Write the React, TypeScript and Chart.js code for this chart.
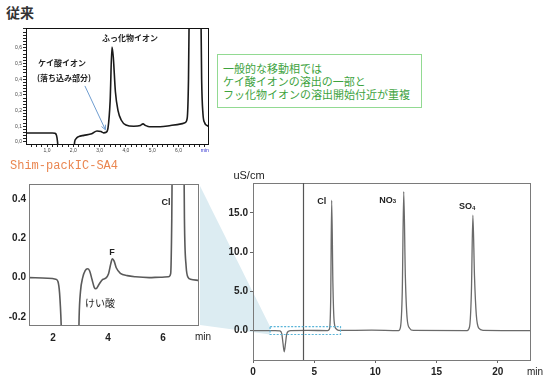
import React, { useEffect, useRef } from "react";
import { Chart, registerables } from "chart.js";

Chart.register(...registerables);

const SANS = "'Liberation Sans', Arial, 'Noto Sans CJK JP', sans-serif";
const JP = "'Noto Sans CJK JP', 'Liberation Sans', sans-serif";

// ===== 従来 (conventional column) =====
const oldTimes = [0.2, 1.2, 1.3, 1.36, 1.4, 1.44, 2.0, 2.05, 2.1, 2.2, 2.4, 2.7, 2.9, 3.05, 3.15, 3.25, 3.32, 3.4, 3.47, 3.52, 3.6, 3.7, 3.82, 4.0, 4.3, 4.55, 4.65, 4.75, 4.9, 5.3, 5.7, 6.1, 6.25, 6.33, 6.38, 6.42, 6.6, 6.84, 6.88, 6.93, 7.0, 7.08, 7.16];
const oldSignal = [0.57, 0.57, 0.55, 0.42, 0.0, -1, -1, 0.0, 0.2, 0.34, 0.42, 0.52, 0.7, 0.66, 0.58, 0.62, 0.9, 2.6, 6.05, 5.4, 3.2, 2.0, 1.4, 1.08, 1.0, 1.05, 1.15, 1.05, 0.97, 0.97, 1.05, 1.15, 1.23, 1.5, 4, 10, 14, 10, 4, 1.8, 1.2, 1.05, 0.97];
const oldXTickLabels = ["1,0", "2,0", "3,0", "4,0", "5,0", "6,0", "min"];
const oldYTickLabels = ["0,0", "0,1", "0,2", "0,3", "0,4", "0,5", "0,6"];
const oldFluorideLabel = "ふっ化物イオン";
const oldSilicateLabel = ["ケイ酸イオン", "(落ち込み部分)"];
const oldNote = ["一般的な移動相では", "ケイ酸イオンの溶出の一部と", "フッ化物イオンの溶出開始付近が重複"];

// ===== Shim-pack IC-SA4 (zoomed) =====
const zoomTitle = "Shim-packIC-SA4";
const zoomTimes = [1.13, 1.8, 2.1, 2.18, 2.24, 2.3, 2.36, 2.9, 2.95, 3.0, 3.08, 3.17, 3.25, 3.33, 3.42, 3.5, 3.56, 3.67, 3.8, 3.92, 4.02, 4.1, 4.16, 4.22, 4.3, 4.45, 4.7, 5.0, 5.5, 5.9, 6.2, 6.28, 6.32, 6.36, 6.55, 6.74, 6.78, 6.84, 6.92, 7.0, 7.31];
const zoomSignal = [0.0, -0.003, -0.008, -0.02, -0.08, -0.25, -0.6, -0.6, -0.2, -0.07, 0.0, 0.035, 0.045, 0.035, -0.01, -0.05, -0.057, -0.035, -0.01, -0.003, 0.02, 0.07, 0.096, 0.085, 0.05, 0.022, 0.01, 0.004, 0.0, 0.002, 0.004, 0.02, 0.3, 1.0, 1.6, 1.0, 0.3, 0.06, 0.0, -0.008, -0.014];
const zoomXTicks = [2, 4, 6];
const zoomYTicks = [-0.2, 0.0, 0.2, 0.4];

// ===== full chromatogram =====
const fullTimes = [0, 1.8, 2.2, 2.35, 2.45, 2.55, 2.65, 2.75, 2.9, 3.1, 4.5, 6.1, 6.25, 6.35, 6.43, 6.53, 6.63, 6.8, 7.0, 9.7, 11.9, 12.05, 12.2, 12.32, 12.45, 12.6, 12.8, 13.1, 17.5, 17.7, 17.85, 17.97, 18.1, 18.25, 18.45, 18.8, 22.72];
const fullSignal = [0, 0, -0.05, -0.4, -1.6, -2.7, -1.7, -0.5, -0.08, 0, 0.02, 0, 0.2, 4, 16.6, 6, 1.2, 0.2, 0.02, 0.05, 0, 0.4, 5, 17.7, 7, 1.5, 0.3, 0.02, 0, 0.5, 5, 14.7, 7, 2, 0.3, 0.03, 0];
const fullXTicks = [0, 5, 10, 15, 20];
const fullYTicks = [0, 5, 10, 15];
const peakNames = ["Cl", "NO", "SO"];
const peakSubs = ["", "3", "4"];

type Box = { left: number; top: number; width: number; height: number };
type Area = { left: number; top: number; right: number; bottom: number };

const OLD_BOX: Box = { left: 0, top: 20, width: 215, height: 140 };
const OLD_AREA: Area = { left: 26, top: 28, right: 209, bottom: 144 };
const ZOOM_BOX: Box = { left: 0, top: 176, width: 215, height: 170 };
const ZOOM_AREA: Area = { left: 29, top: 184, right: 199, bottom: 325 };
const FULL_BOX: Box = { left: 199, top: 165, width: 351, height: 217 };
const FULL_AREA: Area = { left: 253, top: 183, right: 531, bottom: 360 };

function layoutFor(box: Box, area: Area) {
  return {
    padding: { left: 0, top: area.top - box.top, right: box.left + box.width - area.right, bottom: 0 },
    yWidth: area.left - box.left,
    xHeight: box.top + box.height - area.bottom,
  };
}

function fixY(w: number) {
  return (s: any) => {
    s.width = w;
    s.paddingTop = 0; s.paddingBottom = 0; s.paddingLeft = 0; s.paddingRight = 0;
  };
}
function fixX(h: number) {
  return (s: any) => {
    s.height = h;
    s.paddingTop = 0; s.paddingBottom = 0; s.paddingLeft = 0; s.paddingRight = 0;
  };
}

function pts(xs: number[], ys: number[]) {
  return xs.map((x, i) => ({ x, y: ys[i] }));
}

function text(ctx: CanvasRenderingContext2D, s: string, x: number, y: number, font: string, color: string, align: CanvasTextAlign = "center") {
  ctx.save();
  ctx.font = font;
  ctx.fillStyle = color;
  ctx.textAlign = align;
  ctx.textBaseline = "middle";
  ctx.fillText(s, x, y);
  ctx.restore();
}

function frame(chart: any, color: string, width: number) {
  const { ctx, chartArea: a } = chart;
  ctx.save();
  ctx.strokeStyle = color;
  ctx.lineWidth = width;
  ctx.strokeRect(a.left + 0.5, a.top + 0.5, a.right - a.left - 1, a.bottom - a.top);
  ctx.restore();
}

const isInt = (v: number) => Math.abs(v - Math.round(v)) < 1e-6;

function makeOld(canvas: HTMLCanvasElement) {
  const L = layoutFor(OLD_BOX, OLD_AREA);
  const plugin = {
    id: "oldDeco",
    afterDraw(chart: any) {
      frame(chart, "#111", 1);
      const { ctx, scales } = chart;
      const X = (v: number) => scales.x.getPixelForValue(v);
      const Y = (v: number) => scales.y.getPixelForValue(v);
      text(ctx, oldFluorideLabel, X(4.16), Y(6.62), `bold 8px ${JP}`, "#222");
      text(ctx, oldSilicateLabel[0], X(0.66), Y(5.03), `bold 8px ${JP}`, "#222", "left");
      text(ctx, oldSilicateLabel[1], X(0.62), Y(4.1), `bold 8px ${JP}`, "#222", "left");
      // arrow
      const x0 = X(2.44), y0 = Y(3.57), x1 = X(3.22), y1 = Y(0.78);
      ctx.save();
      ctx.strokeStyle = "#6f9dd0";
      ctx.fillStyle = "#6f9dd0";
      ctx.lineWidth = 1;
      ctx.beginPath(); ctx.moveTo(x0, y0); ctx.lineTo(x1, y1); ctx.stroke();
      const ang = Math.atan2(y1 - y0, x1 - x0);
      ctx.beginPath();
      ctx.moveTo(x1, y1);
      ctx.lineTo(x1 - 5 * Math.cos(ang - 0.45), y1 - 5 * Math.sin(ang - 0.45));
      ctx.moveTo(x1, y1);
      ctx.lineTo(x1 - 5 * Math.cos(ang + 0.45), y1 - 5 * Math.sin(ang + 0.45));
      ctx.stroke();
      ctx.restore();
    },
  };
  return new Chart(canvas, {
    type: "line",
    data: { datasets: [{ data: pts(oldTimes, oldSignal), borderColor: "#1a1a1a", borderWidth: 1.6, pointRadius: 0, cubicInterpolationMode: "monotone", fill: false, clip: 0 } as any] },
    options: {
      responsive: false, maintainAspectRatio: false, animation: false,
      layout: { padding: L.padding },
      plugins: { legend: { display: false }, tooltip: { enabled: false } },
      scales: {
        x: {
          type: "linear", min: 0.2, max: 7.16,
          afterFit: fixX(L.xHeight),
          afterBuildTicks: (s: any) => { const t = []; for (let i = 2; i <= 35; i++) t.push({ value: i / 5 }); s.ticks = t; },
          grid: { display: true, drawOnChartArea: false, tickLength: 3, color: "#222" },
          border: { display: false },
          ticks: {
            autoSkip: false, maxRotation: 0, padding: 1,
            font: { family: SANS, size: 5 },
            color: (c: any) => (Math.abs(c.tick.value - 7) < 1e-6 ? "#2b2bd0" : "#444"),
            callback: (v: any) => (isInt(v) && v >= 1 ? oldXTickLabels[Math.round(v) - 1] ?? "" : ""),
          },
        },
        y: {
          type: "linear", min: -0.13, max: 7.26,
          afterFit: fixY(L.yWidth),
          afterBuildTicks: (s: any) => { const t = []; for (let i = 0; i <= 36; i++) t.push({ value: i / 5 }); s.ticks = t; },
          grid: { display: true, drawOnChartArea: false, tickLength: 3, color: "#222" },
          border: { display: false },
          ticks: {
            autoSkip: false, padding: 1, font: { family: SANS, size: 5 }, color: "#444",
            callback: (v: any) => (isInt(v) ? oldYTickLabels[Math.round(v)] ?? "" : ""),
          },
        },
      },
    },
    plugins: [plugin],
  } as any);
}

function makeZoom(canvas: HTMLCanvasElement) {
  const L = layoutFor(ZOOM_BOX, ZOOM_AREA);
  const plugin = {
    id: "zoomDeco",
    afterDraw(chart: any) {
      frame(chart, "#7a7a7a", 1);
      const { ctx, scales, chartArea: a } = chart;
      const X = (v: number) => scales.x.getPixelForValue(v);
      const Y = (v: number) => scales.y.getPixelForValue(v);
      text(ctx, "Cl", X(6.11), Y(0.38), `bold 9px ${SANS}`, "#222");
      text(ctx, "F", X(4.15), Y(0.13), `bold 9px ${SANS}`, "#222");
      text(ctx, "けい酸", X(3.71), Y(-0.13), `10px ${JP}`, "#222");
      text(ctx, "min", a.right + 4, a.bottom + 12, `10px ${SANS}`, "#222");
    },
  };
  return new Chart(canvas, {
    type: "line",
    data: { datasets: [{ data: pts(zoomTimes, zoomSignal), borderColor: "#5a5a5a", borderWidth: 1.6, pointRadius: 0, cubicInterpolationMode: "monotone", fill: false, clip: 0 } as any] },
    options: {
      responsive: false, maintainAspectRatio: false, animation: false,
      layout: { padding: L.padding },
      plugins: { legend: { display: false }, tooltip: { enabled: false } },
      scales: {
        x: {
          type: "linear", min: 1.127, max: 7.31,
          afterFit: fixX(L.xHeight),
          afterBuildTicks: (s: any) => { s.ticks = zoomXTicks.map((value) => ({ value })); },
          grid: { display: false, drawTicks: false },
          border: { display: false },
          ticks: { autoSkip: false, maxRotation: 0, padding: 7, font: { family: SANS, size: 10, weight: "bold" }, color: "#222", callback: (v: any) => String(v) },
        },
        y: {
          type: "linear", min: -0.241, max: 0.476,
          afterFit: fixY(L.yWidth),
          afterBuildTicks: (s: any) => { s.ticks = zoomYTicks.map((value) => ({ value })); },
          grid: { display: false, drawTicks: false },
          border: { display: false },
          ticks: { autoSkip: false, padding: 3, font: { family: SANS, size: 10, weight: "bold" }, color: "#222", callback: (v: any) => Number(v).toFixed(1) },
        },
      },
    },
    plugins: [plugin],
  } as any);
}

function makeFull(canvas: HTMLCanvasElement) {
  const L = layoutFor(FULL_BOX, FULL_AREA);
  const rectX = [1.4, 7.15];
  const rectY = [0.5, -0.5];
  const plugin = {
    id: "fullDeco",
    beforeDraw(chart: any) {
      const { ctx, scales } = chart;
      const rx = scales.x.getPixelForValue(rectX[0]);
      const ryTop = scales.y.getPixelForValue(rectY[0]);
      const ryBot = scales.y.getPixelForValue(rectY[1]);
      const lx = ZOOM_AREA.right - FULL_BOX.left;
      const lTop = ZOOM_AREA.top - FULL_BOX.top;
      const lBot = ZOOM_AREA.bottom - FULL_BOX.top;
      ctx.save();
      ctx.fillStyle = "#dcecf2";
      ctx.beginPath();
      ctx.moveTo(lx + 1, lTop + 2);
      ctx.lineTo(rx, ryTop);
      ctx.lineTo(rx, ryBot);
      ctx.lineTo(lx + 1, lBot);
      ctx.closePath();
      ctx.fill();
      ctx.restore();
    },
    afterDraw(chart: any) {
      frame(chart, "#7a7a7a", 1);
      const { ctx, scales, chartArea: a } = chart;
      const X = (v: number) => scales.x.getPixelForValue(v);
      const Y = (v: number) => scales.y.getPixelForValue(v);
      // injection marker line
      ctx.save();
      ctx.strokeStyle = "#555";
      ctx.lineWidth = 1.2;
      ctx.beginPath();
      ctx.moveTo(Math.round(X(4.07)) + 0.5, a.top);
      ctx.lineTo(Math.round(X(4.07)) + 0.5, a.bottom);
      ctx.stroke();
      // dotted zoom rectangle
      ctx.strokeStyle = "#5ab4d8";
      ctx.lineWidth = 1.2;
      ctx.setLineDash([2, 1.5]);
      const x0 = X(rectX[0]), x1 = X(rectX[1]), y0 = Y(rectY[0]), y1 = Y(rectY[1]);
      ctx.strokeRect(x0, y0, x1 - x0, y1 - y0);
      ctx.restore();
      // labels
      const lab = [[5.62, 16.5], [11.0, 16.6], [17.5, 15.8]];
      peakNames.forEach((n, i) => {
        const cx = X(lab[i][0]), cy = Y(lab[i][1]);
        ctx.save();
        ctx.font = `bold 9px ${SANS}`;
        const w1 = ctx.measureText(n).width;
        ctx.font = `bold 6px ${SANS}`;
        const w2 = peakSubs[i] ? ctx.measureText(peakSubs[i]).width : 0;
        ctx.restore();
        const sx = cx - (w1 + w2) / 2;
        text(ctx, n, sx, cy, `bold 9px ${SANS}`, "#222", "left");
        if (peakSubs[i]) text(ctx, peakSubs[i], sx + w1, cy + 1.5, `bold 6px ${SANS}`, "#222", "left");
      });
      text(ctx, "uS/cm", a.left - 4, a.top - 7, `11px ${SANS}`, "#222");
      text(ctx, "min", a.right + 4, a.bottom + 12, `10px ${SANS}`, "#222");
    },
  };
  return new Chart(canvas, {
    type: "line",
    data: { datasets: [{ data: pts(fullTimes, fullSignal), borderColor: "#6a6a6a", borderWidth: 1.3, pointRadius: 0, cubicInterpolationMode: "monotone", fill: false, clip: 0 } as any] },
    options: {
      responsive: false, maintainAspectRatio: false, animation: false,
      layout: { padding: L.padding },
      plugins: { legend: { display: false }, tooltip: { enabled: false } },
      scales: {
        x: {
          type: "linear", min: 0, max: 22.72,
          afterFit: fixX(L.xHeight),
          afterBuildTicks: (s: any) => { s.ticks = fullXTicks.map((value) => ({ value })); },
          grid: { display: true, drawOnChartArea: false, tickLength: 3, color: "#666" },
          border: { display: false },
          ticks: { autoSkip: false, maxRotation: 0, padding: 3, font: { family: SANS, size: 10, weight: "bold" }, color: "#222", callback: (v: any) => String(v) },
        },
        y: {
          type: "linear", min: -3.75, max: 18.8,
          afterFit: fixY(L.yWidth),
          afterBuildTicks: (s: any) => { s.ticks = fullYTicks.map((value) => ({ value })); },
          grid: { display: true, drawOnChartArea: false, tickLength: 3, color: "#666" },
          border: { display: false },
          ticks: { autoSkip: false, padding: 2, font: { family: SANS, size: 10, weight: "bold" }, color: "#222", callback: (v: any) => Number(v).toFixed(1) },
        },
      },
    },
    plugins: [plugin],
  } as any);
}

function ChartCanvas({ box, make }: { box: Box; make: (c: HTMLCanvasElement) => Chart }) {
  const ref = useRef<HTMLCanvasElement>(null);
  useEffect(() => {
    const ch = make(ref.current!);
    return () => ch.destroy();
  }, []);
  return (
    <canvas
      ref={ref}
      width={box.width}
      height={box.height}
      style={{ position: "absolute", left: box.left, top: box.top, width: box.width, height: box.height, display: "block" }}
    />
  );
}

export default function App() {
  return (
    <div style={{ position: "absolute", left: 0, top: 0, width: 550, height: 382, background: "#fff", overflow: "hidden" }}>
      <div style={{ position: "absolute", left: 6, top: 3, font: `bold 14px ${JP}`, color: "#333", lineHeight: "18px" }}>従来</div>
      <ChartCanvas box={OLD_BOX} make={makeOld} />
      <div
        style={{
          position: "absolute", left: 217, top: 54, width: 205, height: 54, boxSizing: "border-box",
          border: "1.5px solid #92da92", padding: "7px 0 0 5px", font: `11px ${JP}`, lineHeight: "12.8px", color: "#3ea33e",
          whiteSpace: "nowrap",
        }}
      >
        {oldNote.map((l, i) => (
          <div key={i}>{l}</div>
        ))}
      </div>
      <div style={{ position: "absolute", left: 10, top: 158, font: `12px 'Liberation Mono', 'DejaVu Sans Mono', monospace`, color: "#ea8650", lineHeight: "16px" }}>{zoomTitle}</div>
      <ChartCanvas box={FULL_BOX} make={makeFull} />
      <ChartCanvas box={ZOOM_BOX} make={makeZoom} />
    </div>
  );
}
